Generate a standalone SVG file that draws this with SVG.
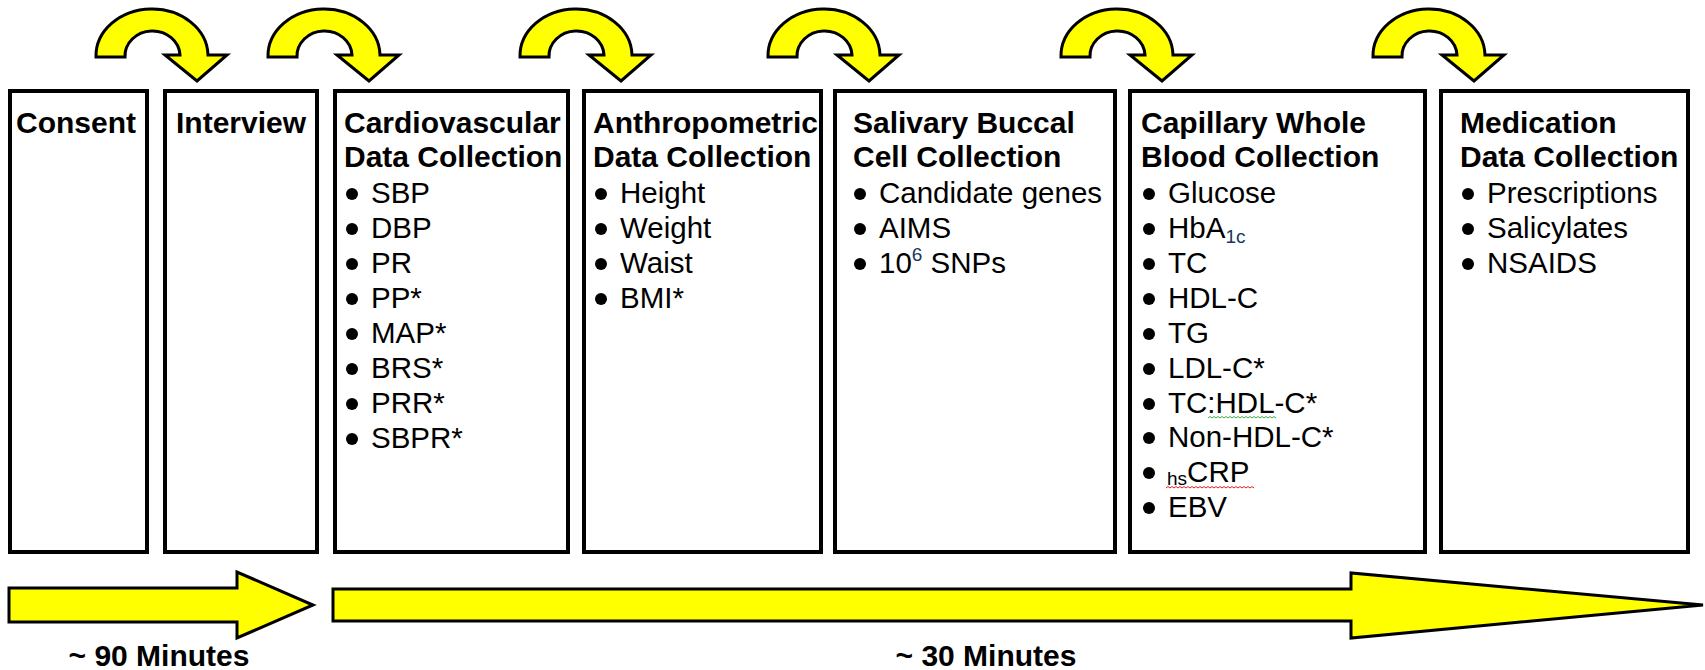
<svg xmlns="http://www.w3.org/2000/svg" xmlns:xlink="http://www.w3.org/1999/xlink" width="1705" height="670" viewBox="0 0 1705 670">
<style>
.box{fill:#fff;stroke:#000;stroke-width:4}
.arr{fill:#ffff00;stroke:#000;stroke-width:3;stroke-linejoin:miter}
.h{font-family:"Liberation Sans",Arial,sans-serif;font-weight:bold;font-size:30px;fill:#000}
.t{font-family:"Liberation Sans",Arial,sans-serif;font-size:29.5px;fill:#000}
.s{font-size:19px;fill:#17365D}
.b{fill:#000}
.sq{fill:none;stroke-width:1}
</style>
<defs>
<path id="curl" d="M96,57 A56,47 0 0 1 208,55 L227,55 L197,81 L165,55 L180,55 A27.5,25 0 0 0 125,57 Z"/>
<circle id="dot" r="6"/>
</defs>
<rect width="1705" height="670" fill="#fff"/>

<g id="connectors">
<use xlink:href="#curl" href="#curl" class="arr" x="0"/>
<use xlink:href="#curl" href="#curl" class="arr" x="172"/>
<use xlink:href="#curl" href="#curl" class="arr" x="424"/>
<use xlink:href="#curl" href="#curl" class="arr" x="672"/>
<use xlink:href="#curl" href="#curl" class="arr" x="965"/>
<use xlink:href="#curl" href="#curl" class="arr" x="1277"/>
</g>

<g id="timeline90">
<path class="arr" d="M9,588 L237,588 L237,572 L313,605 L237,638 L237,622 L9,622 Z"/>
<text class="h" x="159" y="666" text-anchor="middle">~ 90 Minutes</text>
</g>
<g id="timeline30">
<path class="arr" d="M333,589 L1351,589 L1351,573 L1703,605 L1351,638 L1351,621 L333,621 Z"/>
<text class="h" x="986" y="666" text-anchor="middle">~ 30 Minutes</text>
</g>

<g id="consent">
<rect class="box" x="10" y="91" width="137" height="461"/>
<text class="h" x="16" y="133">Consent</text>
</g>

<g id="interview">
<rect class="box" x="165" y="91" width="152" height="461"/>
<text class="h" x="176" y="133">Interview</text>
</g>

<g id="cardiovascular">
<rect class="box" x="335" y="91" width="233" height="461"/>
<text class="h" x="344" y="133">Cardiovascular</text>
<text class="h" x="344" y="167">Data Collection</text>
<g class="b">
<use xlink:href="#dot" href="#dot" x="352" y="194"/>
<use xlink:href="#dot" href="#dot" x="352" y="229"/>
<use xlink:href="#dot" href="#dot" x="352" y="264"/>
<use xlink:href="#dot" href="#dot" x="352" y="299"/>
<use xlink:href="#dot" href="#dot" x="352" y="334"/>
<use xlink:href="#dot" href="#dot" x="352" y="369"/>
<use xlink:href="#dot" href="#dot" x="352" y="404"/>
<use xlink:href="#dot" href="#dot" x="352" y="439"/>
</g>
<text class="t" x="371" y="203">SBP</text>
<text class="t" x="371" y="238">DBP</text>
<text class="t" x="371" y="273">PR</text>
<text class="t" x="371" y="308">PP*</text>
<text class="t" x="371" y="343">MAP*</text>
<text class="t" x="371" y="378">BRS*</text>
<text class="t" x="371" y="413">PRR*</text>
<text class="t" x="371" y="448">SBPR*</text>
</g>

<g id="anthropometric">
<rect class="box" x="584" y="91" width="237" height="461"/>
<text class="h" x="593" y="133">Anthropometric</text>
<text class="h" x="593" y="167">Data Collection</text>
<g class="b">
<use xlink:href="#dot" href="#dot" x="601" y="194"/>
<use xlink:href="#dot" href="#dot" x="601" y="229"/>
<use xlink:href="#dot" href="#dot" x="601" y="264"/>
<use xlink:href="#dot" href="#dot" x="601" y="299"/>
</g>
<text class="t" x="620" y="203">Height</text>
<text class="t" x="620" y="238">Weight</text>
<text class="t" x="620" y="273">Waist</text>
<text class="t" x="620" y="308">BMI*</text>
</g>

<g id="salivary">
<rect class="box" x="835" y="91" width="280" height="461"/>
<text class="h" x="853" y="133">Salivary Buccal</text>
<text class="h" x="853" y="167">Cell Collection</text>
<g class="b">
<use xlink:href="#dot" href="#dot" x="860" y="194"/>
<use xlink:href="#dot" href="#dot" x="860" y="229"/>
<use xlink:href="#dot" href="#dot" x="860" y="264"/>
</g>
<text class="t" x="879" y="203">Candidate genes</text>
<text class="t" x="879" y="238">AIMS</text>
<text class="t" x="879" y="273">10<tspan class="s" dy="-12">6</tspan><tspan dy="12"> SNPs</tspan></text>
</g>

<g id="capillary">
<rect class="box" x="1130" y="91" width="295" height="461"/>
<text class="h" x="1141" y="133">Capillary Whole</text>
<text class="h" x="1141" y="167">Blood Collection</text>
<g class="b">
<use xlink:href="#dot" href="#dot" x="1149" y="194"/>
<use xlink:href="#dot" href="#dot" x="1149" y="229"/>
<use xlink:href="#dot" href="#dot" x="1149" y="264"/>
<use xlink:href="#dot" href="#dot" x="1149" y="299"/>
<use xlink:href="#dot" href="#dot" x="1149" y="334"/>
<use xlink:href="#dot" href="#dot" x="1149" y="369"/>
<use xlink:href="#dot" href="#dot" x="1149" y="404"/>
<use xlink:href="#dot" href="#dot" x="1149" y="438"/>
<use xlink:href="#dot" href="#dot" x="1149" y="473"/>
<use xlink:href="#dot" href="#dot" x="1149" y="508"/>
</g>
<text class="t" x="1168" y="203">Glucose</text>
<text class="t" x="1168" y="238">HbA<tspan class="s" dy="5">1c</tspan></text>
<text class="t" x="1168" y="273">TC</text>
<text class="t" x="1168" y="308">HDL-C</text>
<text class="t" x="1168" y="343">TG</text>
<text class="t" x="1168" y="378">LDL-C*</text>
<text class="t" x="1168" y="413">TC:HDL-C*</text>
<text class="t" x="1168" y="447">Non-HDL-C*</text>
<text class="t" x="1167" y="482"><tspan font-size="19px" dy="3">hs</tspan><tspan dy="-3">CRP</tspan></text>
<text class="t" x="1168" y="517">EBV</text>
<path class="sq" stroke="#3cb043" d="M1208,418 l2,-1.5 l2,1.5 l2,-1.5 l2,1.5 l2,-1.5 l2,1.5 l2,-1.5 l2,1.5 l2,-1.5 l2,1.5 l2,-1.5 l2,1.5 l2,-1.5 l2,1.5 l2,-1.5 l2,1.5 l2,-1.5 l2,1.5 l2,-1.5 l2,1.5 l2,-1.5 l2,1.5 l2,-1.5 l2,1.5 l2,-1.5 l2,1.5 l2,-1.5 l2,1.5 l2,-1.5 l2,1.5 l2,-1.5 l2,1.5 l2,-1.5 l2,1.5"/>
<path class="sq" stroke="#e02020" d="M1166,488 l2,-1.5 l2,1.5 l2,-1.5 l2,1.5 l2,-1.5 l2,1.5 l2,-1.5 l2,1.5 l2,-1.5 l2,1.5 l2,-1.5 l2,1.5 l2,-1.5 l2,1.5 l2,-1.5 l2,1.5 l2,-1.5 l2,1.5 l2,-1.5 l2,1.5 l2,-1.5 l2,1.5 l2,-1.5 l2,1.5 l2,-1.5 l2,1.5 l2,-1.5 l2,1.5 l2,-1.5 l2,1.5 l2,-1.5 l2,1.5 l2,-1.5 l2,1.5 l2,-1.5 l2,1.5 l2,-1.5 l2,1.5 l2,-1.5 l2,1.5 l2,-1.5 l2,1.5 l2,-1.5 l2,1.5"/>
</g>

<g id="medication">
<rect class="box" x="1441" y="91" width="247" height="461"/>
<text class="h" x="1460" y="133">Medication</text>
<text class="h" x="1460" y="167">Data Collection</text>
<g class="b">
<use xlink:href="#dot" href="#dot" x="1468" y="194"/>
<use xlink:href="#dot" href="#dot" x="1468" y="229"/>
<use xlink:href="#dot" href="#dot" x="1468" y="264"/>
</g>
<text class="t" x="1487" y="203">Prescriptions</text>
<text class="t" x="1487" y="238">Salicylates</text>
<text class="t" x="1487" y="273">NSAIDS</text>
</g>
</svg>
